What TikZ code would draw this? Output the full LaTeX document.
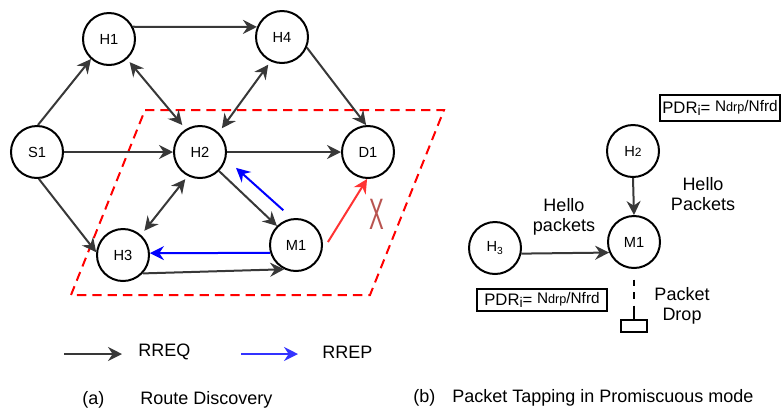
\documentclass[tikz,border=0pt]{standalone}
\usepackage{fontspec}
\setmainfont{Liberation Sans}
\usepackage{graphicx}
\usetikzlibrary{arrows.meta,positioning}
\definecolor{reqgray}{HTML}{383838}
\definecolor{repblue}{HTML}{0000FF}
\definecolor{legblue}{HTML}{3333FF}
\definecolor{zonered}{HTML}{FF0000}
\definecolor{dropred}{HTML}{FF3333}
\definecolor{crossbrown}{HTML}{B85450}
\newcommand{\pdrtext}{PDR\raisebox{-.3ex}{\fontsize{10.5}{12}\selectfont i}= \raisebox{.25ex}{\fontsize{11.5}{12}\selectfont N{\fontsize{9.5}{10}\selectfont drp}/Nfrd}}
\begin{document}
\begin{tikzpicture}[x=0.75pt,y=-0.75pt,font=\fontsize{11}{12}\selectfont,>={Stealth[length=10.5pt,width=10.5pt,inset=3.5pt]},
host/.style={circle,draw,fill=white,line width=1.5pt,minimum size=39pt,inner sep=0pt},
req/.style={->,draw=reqgray,line width=1.5pt},
both/.style={<->,draw=reqgray,line width=1.5pt,shorten <=3pt,shorten >=4pt},
rrep/.style={->,draw=repblue,line width=1.5pt},
lbl/.style={inner sep=0pt,align=center,font=\fontsize{13.5}{15}\selectfont},
pdr/.style={draw,line width=1.5pt,inner sep=0pt,font=\fontsize{12.5}{14}\selectfont}]
\useasboundingbox (0,0) rectangle (781,412);
% (a) route discovery
\draw[zonered,line width=1.5pt,dash pattern=on 7pt off 4.5pt] (145,110) -- (444,110) -- (370,295) -- (71,295) -- cycle;
\node[host] (S1) at (37,152) {S1};
\node[host] (H1) at (109,39) {H1};
\node[host] (H4) at (282,37) {H4};
\node[host] (H2) at (200,152) {H2};
\node[host] (D1) at (368,152) {D1};
\node[host] (H3) at (123,255) {H3};
\node[host] (M1) at (296,245) {M1};
\foreach \a/\b in {S1.88/H1.228,H1.27/H4.158,H4.-23/D1.94,S1.east/H2.west,H2.east/D1.west,S1.-86/H3.174,H2.-45/M1.135,H3.-43/M1.244}{\draw[req] (\a)--(\b);}
\foreach \a/\b in {H1.-48/H2.122,H4.245/H2.46,H2.243/H3.48}{\draw[both] (\a)--(\b);}
\draw[rrep,shorten <=9pt,shorten >=10pt] (M1.98)--(H2.-15);
\draw[rrep] (M1.197)--(H3.4);
\draw[->,draw=dropred,line width=1.5pt,shorten <=8pt] (M1.-13)--(D1.-92);
\node[text=crossbrown,inner sep=0pt] (cross) at (377,214) {\scalebox{0.5}[1]{\fontsize{33}{33}\selectfont X}};
% legend
\coordinate (reqtail) at (64,354);
\node[lbl,anchor=west] (rreq) at (138,352) {RREQ};
\draw[req,shorten >=12pt] (reqtail)--(reqtail -| rreq.west);
\coordinate (reptail) at (241,354);
\node[lbl,anchor=west] (rrep) at (322,352) {RREP};
\draw[->,draw=legblue,line width=1.5pt,shorten >=18pt] (reptail)--(reptail -| rrep.west);
% (b) packet tapping
\node[host] (H2b) at (633,151) {H{\small 2}};
\node[host] (M1b) at (634,242) {M1};
\node[host] (H3b) at (495,248) {H\textsubscript{3}};
\draw[req] (H2b.south)--(M1b.north);
\draw[req] (H3b.-12)--(M1b.203);
\node[lbl] (hellolow) at (564,217) {Hello\\packets};
\node[lbl] (hellotop) at (703,194) {Hello\\Packets};
\node[lbl] (droplbl) at (682,306) {Packet\\Drop};
\node[draw,line width=1.5pt,minimum width=20pt,minimum height=8.5pt,inner sep=0pt] (bin) at (634,326) {};
\draw[line width=1.5pt,dash pattern=on 5pt off 4.5pt on 5pt off 5pt on 12pt,shorten <=8pt] (M1b.south)--(bin.north);
\node[pdr,minimum width=90pt,minimum height=20pt] (pdrtop) at (720,108) {\pdrtext};
\node[pdr,minimum width=98pt,minimum height=17pt] (pdrlow) at (542,300) {\pdrtext};
% captions
\node[lbl,anchor=west] (capa) at (82,400) {(a)};
\node[lbl,anchor=west] (capatxt) at (140,400) {Route Discovery};
\node[lbl,anchor=west] (capb) at (413,398) {(b)};
\node[lbl,anchor=west] (capbtxt) at (452,398) {Packet Tapping in Promiscuous mode};
\end{tikzpicture}
\end{document}
